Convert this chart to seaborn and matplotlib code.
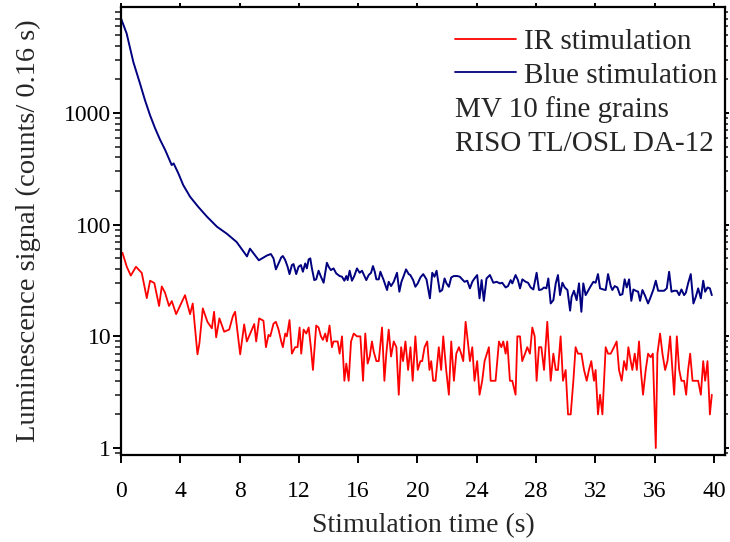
import matplotlib
matplotlib.use("Agg")
import matplotlib.pyplot as plt
import matplotlib.ticker as mticker
import seaborn as sns
import pandas as pd

# ---------------- data ----------------
ir_time = [0.1, 0.39, 0.66, 1.01, 1.4, 1.74, 1.96, 2.25, 2.57, 2.75, 2.97, 3.24, 3.43, 3.72,
           4.32, 4.66, 4.84, 5.16, 5.29, 5.52, 5.83, 6.13, 6.28, 6.42, 6.64, 6.96, 7.3, 7.55,
           7.7, 8.04, 8.31, 8.49, 8.99, 9.12, 9.32, 9.61, 9.78, 9.95,
           10.07, 10.29, 10.45, 10.63, 10.81, 10.92, 11.08, 11.19, 11.37, 11.53, 11.75, 11.91,
           12.05, 12.16, 12.32, 12.5, 12.66, 12.81, 12.95, 13.17, 13.33, 13.49, 13.62, 13.78,
           13.89, 14.07, 14.23, 14.34, 14.62, 14.75, 14.91, 15.07, 15.2, 15.36, 15.52, 15.7,
           15.92, 16.15, 16.33, 16.48, 16.64, 16.78, 16.93, 17.05, 17.23, 17.39, 17.61, 17.77,
           17.9, 18.06, 18.22, 18.4, 18.58, 18.74, 18.9, 19.03, 19.19, 19.37, 19.53, 19.68,
           19.86, 20.02, 20.2,
           20.32, 20.48, 20.66, 20.81, 20.93, 21.06, 21.22, 21.44, 21.6, 21.74, 21.94, 22.12,
           22.28, 22.46, 22.62, 22.8, 22.95, 23.09, 23.25, 23.4, 23.54, 23.7, 23.85, 24.03,
           24.19, 24.37, 24.53, 24.82, 24.94, 25.27, 25.5, 25.66, 25.79, 25.95, 26.06, 26.24,
           26.4, 26.62, 26.74, 26.92, 27.07, 27.26, 27.41, 27.59, 27.75, 27.91, 28.04, 28.2,
           28.36, 28.54, 28.76, 28.99, 29.17, 29.33, 29.48, 29.66, 29.82, 30.0, 30.16, 30.34,
           30.52, 30.67, 30.83, 31.06, 31.24, 31.42, 31.57, 31.73, 31.91, 32.02, 32.18, 32.32,
           32.48, 32.7, 32.86, 33.04, 33.26, 33.44, 33.6, 33.78, 33.94, 34.1, 34.23, 34.39,
           34.5, 34.66, 34.8, 34.95, 35.07, 35.22, 35.4, 35.56, 35.74, 35.88, 36.08, 36.19,
           36.37, 36.53, 36.71, 36.87, 37.05, 37.16, 37.32, 37.5, 37.66, 37.81, 37.99, 38.13,
           38.26, 38.4, 38.56, 38.78, 38.94, 39.12, 39.28, 39.41, 39.57, 39.73, 39.86]
ir_counts = [56, 42, 35, 42, 37, 22, 31.5, 30, 18.7, 28, 24.6, 18.7, 20.7, 15.8,
             23.4, 15.8, 19.7, 6.9, 8.65, 17.8, 13.5, 11.8, 16.6, 9.8, 14.5, 11, 11.5, 15.2,
             16.6, 6.9, 12.8, 9, 12.9, 9, 14.5, 13.8, 8, 10.3,
             10, 13, 13.5, 11.5, 9, 8, 10.6, 10, 14, 7, 8, 8,
             12, 7, 11.5, 10.6, 12, 8, 5, 12.5, 12, 10, 9.3, 10.6,
             9, 12.5, 8, 9, 9, 7, 10, 4, 5.7, 4, 9, 10.6,
             10, 10, 4, 10.6, 5.7, 6.6, 9, 7.3, 6, 6, 12, 4,
             7, 11.5, 6.6, 9, 8, 3, 8, 6, 9, 5, 8, 4,
             10, 5, 6,
             6, 8, 9, 5, 6, 4, 4, 8, 5, 10, 5, 3,
             9, 4, 7, 8, 7, 6, 13.5, 9, 6, 8, 4, 6,
             3, 4, 6, 8, 4, 4, 9, 8, 9, 7, 9, 4,
             4, 3, 10, 10, 6, 7, 8, 7, 12, 10, 4, 8,
             8, 5, 13.5, 4, 7, 5, 5, 10, 4, 5, 2, 2,
             4, 8, 7, 7, 5, 4, 5, 6, 4, 5, 2, 3,
             2, 8, 7, 7, 8, 9, 5, 4, 6, 5, 8, 6,
             5, 7, 5, 9, 5, 3, 5, 7, 6.5, 7, 1, 7,
             10.6, 7, 5, 6, 10, 6, 3, 10, 5, 4, 4, 3,
             5, 7, 4, 4, 4, 3, 6, 4, 6, 2, 3]

blue_time = [0.0, 0.38, 0.83, 1.28, 1.62, 1.96, 2.3, 2.64, 2.97, 3.42, 3.55, 3.87, 4.2, 4.66,
             5.2, 5.8, 6.47, 7.14, 7.8, 8.5, 8.7, 9.3, 9.85,
             10.11, 10.29, 10.45, 10.63, 10.81, 10.92, 11.08, 11.24, 11.37, 11.53, 11.64, 11.82,
             11.98, 12.14, 12.27, 12.43, 12.54, 12.66, 12.77, 12.88, 13.04, 13.17, 13.33, 13.49,
             13.67, 13.89, 14.01, 14.16, 14.34, 14.52, 14.75, 14.91, 15.07, 15.2, 15.29, 15.43,
             15.58, 15.74, 15.92, 16.1, 16.26, 16.42, 16.55, 16.71, 16.87, 17.0, 17.12, 17.23,
             17.39, 17.5, 17.72, 17.95, 18.06, 18.22, 18.4, 18.62, 18.78, 18.92, 19.07, 19.23,
             19.41, 19.52, 19.71, 19.86, 20.02, 20.2,
             20.39, 20.61, 20.84, 21.0, 21.15, 21.29, 21.51, 21.67, 21.83, 21.96, 22.12, 22.28,
             22.46, 22.68, 22.86, 23.02, 23.18, 23.36, 23.54, 23.7, 23.85, 24.03, 24.19, 24.33,
             24.48, 24.66, 24.89, 25.12, 25.34, 25.57, 25.72, 25.95, 26.11, 26.29, 26.4, 26.62,
             26.78, 26.92, 27.08, 27.3, 27.46, 27.64, 27.82, 28.04, 28.2, 28.38, 28.54, 28.7,
             28.83, 28.99, 29.17, 29.33, 29.48, 29.62, 29.78, 29.94, 30.12, 30.3,
             30.4, 30.56, 30.74, 30.9, 31.06, 31.19, 31.35, 31.51, 31.69, 31.87, 32.02, 32.18,
             32.32, 32.54, 32.7, 32.86, 33.04, 33.15, 33.31, 33.49, 33.67, 33.83, 33.98, 34.12,
             34.28, 34.43, 34.57, 34.73, 34.89, 35.02, 35.18, 35.34, 35.56, 35.74, 35.92, 36.08,
             36.24, 36.42, 36.64, 36.82, 36.98, 37.14, 37.32, 37.5, 37.66, 37.81, 37.99, 38.11,
             38.26, 38.44, 38.62, 38.78, 38.94, 39.12, 39.28, 39.41, 39.57, 39.73, 39.86]
blue_counts = [7030, 5160, 2870, 1840, 1300, 955, 730, 575, 470, 342, 354, 288, 226, 178,
               145, 118, 96, 83, 70, 52, 61, 48, 53,
               54.6, 49.9, 39.8, 45, 50.9, 52.4, 48.2, 42, 36.1, 43.5, 44.4, 36.1,
               42, 43.5, 37.9, 45, 40.6, 48.9, 49.9, 40.6, 31.9, 32.4, 38.7, 34.2,
               30.2, 45.6, 42, 39.2, 40.6, 36.6, 34.7, 34.2, 31.5, 34.7, 31.9, 38.7,
               31.5, 34.7, 40.6, 37.1, 38.7, 34.7, 31.9, 35.4, 37.1, 42.6, 37.9, 32.4,
               32.4, 37.9, 31.9, 26, 30.8, 28.2, 30.8, 37.1, 25.1, 30.8, 34.7, 39.8,
               36.1, 35.4, 31.9, 27.8, 29.8, 33.7,
               36.1, 32.4, 21.9, 37.1, 34.2, 38.7, 25.1, 26, 33, 29.8, 27.8, 33.7,
               34.7, 34.7, 34.2, 32.4, 30.8, 31.5, 26.9, 30.8, 33, 35.4, 21.9, 31.9,
               20.8, 33, 35.4, 30.2, 30.8, 29.8, 30.2, 27.4, 28.2, 31.9, 29.8, 35.4,
               31.9, 26.9, 32.4, 30.8, 30.2, 27.4, 26.3, 37.1, 26, 26.3, 27.4, 26.9,
               33, 19.7, 21.1, 29.8, 35.4, 23.4, 30.2, 27.4, 26, 17,
               22.6, 25.6, 21.1, 29.8, 16.6, 29.8, 23.4, 25.6, 28.2, 30.8, 30.2, 36.1,
               26.9, 26.3, 26, 36.1, 28.2, 26, 28.2, 27.4, 23.4, 23.9, 32.4, 27.4,
               32.4, 20.8, 26.3, 25.6, 25.1, 20.8, 26, 23.4, 19.7, 22.6, 26.3, 31.5,
               25.6, 25.6, 25.6, 26.9, 37.9, 25.1, 25.6, 25.6, 23.4, 26.3, 23.4, 24.6,
               29.8, 36.1, 19.7, 22.6, 26.9, 21.9, 31.5, 25.1, 27.4, 26.9, 23.4]

x_ticks = [0, 4, 8, 12, 16, 20, 24, 28, 32, 36, 40]
y_ticks = [1, 10, 100, 1000]
legend_labels = ["IR stimulation", "Blue stimulation"]
note_lines = ["MV 10 fine grains", "RISO TL/OSL DA-12"]

# ---------------- style ----------------
sns.set_style("ticks")
plt.rcParams["font.family"] = ["Liberation Serif", "DejaVu Serif"]

fig = plt.figure(figsize=(7.3, 5.42), dpi=100)
ax = fig.add_axes([121 / 730, 1 - 455 / 542, 604 / 730, 448 / 542])

ir_df = pd.DataFrame({"t": ir_time, "v": ir_counts})
blue_df = pd.DataFrame({"t": blue_time, "v": blue_counts})

sns.lineplot(data=ir_df, x="t", y="v", ax=ax, color="#ff0000", lw=1.3,
             estimator=None, sort=False, label=legend_labels[0])
sns.lineplot(data=blue_df, x="t", y="v", ax=ax, color="#000080", lw=1.4,
             estimator=None, sort=False, label=legend_labels[1])

ax.set_yscale("log")
ax.set_xlim(0, 40.75)
ax.set_ylim(0.866, 8900)
ax.set_xticks(x_ticks)
ax.set_xticklabels([str(v) for v in x_ticks])
ax.xaxis.set_minor_locator(mticker.NullLocator())
ax.yaxis.set_major_locator(mticker.FixedLocator(y_ticks))
ax.yaxis.set_major_formatter(mticker.FixedFormatter([str(v) for v in y_ticks]))
ax.yaxis.set_minor_locator(mticker.LogLocator(base=10, subs=range(2, 10)))
ax.yaxis.set_minor_formatter(mticker.NullFormatter())

for s in ax.spines.values():
    s.set_visible(True)
    s.set_linewidth(1.6)
    s.set_color("black")

ax.tick_params(axis="both", which="major", direction="out", length=6, width=1.4,
               labelsize=17, colors="black")
ax.tick_params(axis="y", which="major", pad=1)
ax.tick_params(axis="x", which="major", pad=13)
ax.tick_params(axis="y", which="minor", direction="out", length=4.2, width=1.2)
# tiny mirrored ticks on top / right
ax.tick_params(which="both", top=True, right=True)
for t in ax.xaxis.get_major_ticks():
    t.tick2line.set_markersize(3)
for t in ax.yaxis.get_major_ticks():
    t.tick2line.set_markersize(3)
for t in ax.yaxis.get_minor_ticks():
    t.tick2line.set_markersize(2.5)

ax.set_xlabel("Stimulation time (s)", fontsize=20, labelpad=8)
ax.set_ylabel("Luminescence signal (counts/ 0.16 s)", fontsize=20.5, labelpad=17)

leg = ax.legend(loc="upper left", bbox_to_anchor=(0.553, 0.952), frameon=False,
                fontsize=21, handlelength=2.1, handletextpad=0.25, borderpad=0,
                borderaxespad=0, labelspacing=0.25)
for line in leg.get_lines():
    line.set_linewidth(1.3)

ax.text(0.553, 0.771, note_lines[0], transform=ax.transAxes, fontsize=21,
        va="center", ha="left")
ax.text(0.553, 0.695, note_lines[1], transform=ax.transAxes, fontsize=21,
        va="center", ha="left")

fig.savefig("out.png", dpi=100)
